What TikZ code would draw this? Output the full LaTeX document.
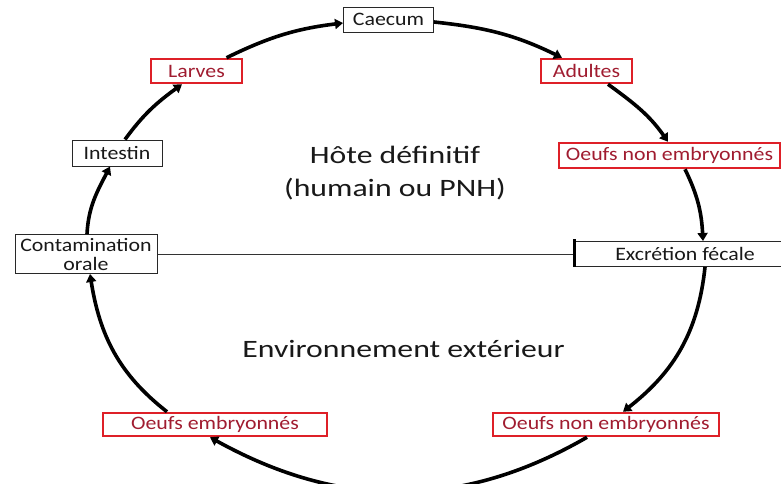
\documentclass[tikz,border=0pt]{standalone}
\usepackage{fontspec}
\setmainfont{Carlito}
\newfontfamily\boxfont[FakeStretch=1.15]{Carlito}
\newfontfamily\bigfont[FakeStretch=1.27]{Carlito}
\usetikzlibrary{arrows.meta}
\definecolor{boxred}{RGB}{222,32,40}
\definecolor{txtred}{RGB}{160,28,48}
\definecolor{boxgray}{RGB}{40,40,40}
\begin{document}
\begin{tikzpicture}[x=1pt,y=1pt,
  basebox/.style={rectangle,inner sep=0pt,align=center,
    font=\boxfont\fontsize{19}{19}\selectfont},
  blackbox/.style={basebox,draw=boxgray,line width=1pt,text=black!90},
  redbox/.style={basebox,draw=boxred,line width=2.5pt,text=txtred},
  bigtext/.style={inner sep=0pt,align=center,text=black!90,
    font=\bigfont\fontsize{25}{33}\selectfont},
  cyc/.style={line width=3.6pt,black,-{Triangle[length=8pt,width=10pt]}}]
\useasboundingbox (0,0) rectangle (781,-483);
\fill[white] (0,0) rectangle (781,-483);

% boxes
\node[blackbox,minimum width=90pt,minimum height=25pt] (caecum) at (388.5,-19.5) {Caecum};
\node[redbox,minimum width=91pt,minimum height=24pt] (larves) at (196.5,-71) {Larves};
\node[redbox,minimum width=91pt,minimum height=24pt] (adultes) at (586.5,-71) {Adultes};
\node[blackbox,minimum width=90pt,minimum height=26pt] (intestin) at (117,-153) {Intestin};
\node[redbox,minimum width=221pt,minimum height=25pt] (oeufsA) at (669.5,-155.5) {Oeufs non embryonnés};
\node[blackbox,minimum width=142pt,minimum height=39pt] (contam) at (86,-254) {Contamination\\orale};
\node[blackbox,minimum width=220pt,minimum height=25pt] (excr) at (685,-254) {Excrétion fécale};
\node[redbox,minimum width=224pt,minimum height=23pt] (oeufsE) at (215,-424.5) {Oeufs embryonnés};
\node[redbox,minimum width=226pt,minimum height=23pt] (oeufsB) at (606,-424.5) {Oeufs non embryonnés};

% central labels
\node[bigtext] (hote) at (395,-173) {Hôte définitif\\(humain ou PNH)};
\node[bigtext] (env) at (403.5,-349) {Environnement extérieur};

% separator line
\draw[line width=0.8pt,black!80] (contam.east) -- (excr.west);
\draw[line width=2.6pt,black] ([yshift=2pt]excr.north west) -- (excr.south west);

% cycle arrows
\draw[cyc] ([xshift=1pt]contam.north) to[out=87,in=243] ([xshift=-7pt]intestin.south);
\draw[cyc] ([xshift=8pt]intestin.north) to[out=54,in=216] ([xshift=-14.5pt]larves.south);
\draw[cyc] ([xshift=30pt]larves.north) to[out=26,in=187] ([yshift=-3.5pt]caecum.west);
\draw[cyc] ([yshift=-2.5pt]caecum.east) to[out=-6,in=154] ([xshift=-24.5pt]adultes.north);
\draw[cyc] ([xshift=21.5pt]adultes.south) to[out=-36,in=125] ([xshift=-1.5pt]oeufsA.north);
\draw[cyc] ([xshift=15.5pt]oeufsA.south) to[out=-64,in=93] ([xshift=18pt]excr.north);
\draw[cyc] ([xshift=20pt]excr.south) to[out=-96,in=38] ([xshift=17pt]oeufsB.north);
\draw[cyc] ([xshift=-19pt]oeufsB.south) to[out=-150,in=-29] ([xshift=-5pt]oeufsE.south);
\draw[cyc] ([xshift=-48pt]oeufsE.north) to[out=142,in=279] ([xshift=4pt]contam.south);
\end{tikzpicture}
\end{document}
